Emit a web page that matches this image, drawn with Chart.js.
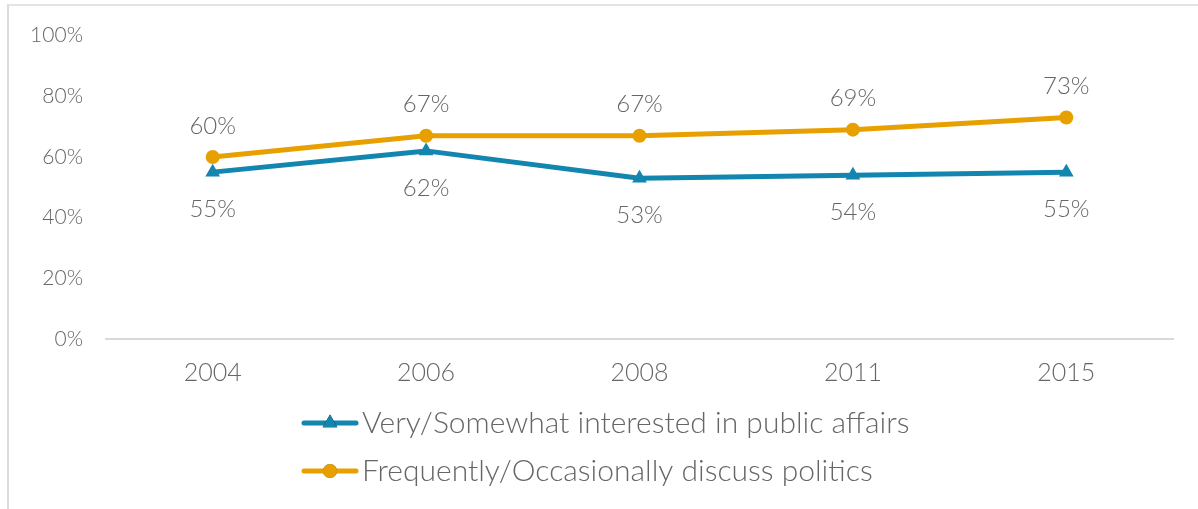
<!DOCTYPE html>
<html>
<head>
<meta charset="utf-8">
<script src="https://cdn.jsdelivr.net/npm/chart.js@4/dist/chart.umd.min.js"></script>
<style>
  html, body { margin: 0; padding: 0; background: #ffffff; }
  #wrap { position: relative; width: 1198px; height: 509px; overflow: hidden; }
  #frame { position: absolute; left: 7px; top: 4px; right: -4px; bottom: -4px;
           border-left: 2px solid #dcdcdc; border-top: 2px solid #e4e4e4; }
  #c { position: absolute; left: 0; top: 0; }
</style>
</head>
<body>
<div id="wrap">
  <div id="frame"></div>
  <canvas id="c" width="1198" height="509"></canvas>
</div>
<script>
// Survey years on the horizontal axis
const years = ['2004', '2006', '2008', '2011', '2015'];

// Share of respondents (%) per year
const interestedPublicAffairs = [55, 62, 53, 54, 55];
const discussPolitics = [60, 67, 67, 69, 73];

const seriesNames = [
  'Very/Somewhat interested in public affairs',
  'Frequently/Occasionally discuss politics'
];

const yTicks = [0, 20, 40, 60, 80, 100];

const BLUE = '#1386AF';
const ORANGE = '#E8A000';
const TEXT = '#666666';
const FONT = 'Lato, "Open Sans", sans-serif';
const WEIGHT = '300';

// Value labels: orange series above its points, blue series below
const valueLabels = {
  id: 'valueLabels',
  afterDatasetsDraw(chart) {
    const ctx = chart.ctx;
    ctx.save();
    ctx.font = WEIGHT + ' 24px ' + FONT;
    ctx.fillStyle = TEXT;
    ctx.textAlign = 'center';
    ctx.textBaseline = 'middle';
    chart.data.datasets.forEach((ds, i) => {
      const meta = chart.getDatasetMeta(i);
      const dy = ds.labelOffset;
      meta.data.forEach((pt, j) => {
        ctx.fillText(ds.data[j] + '%', pt.x, pt.y + dy);
      });
    });
    ctx.restore();
  }
};

// Stacked legend below the axis, one series per row
const stackedLegend = {
  id: 'stackedLegend',
  afterDraw(chart) {
    const ctx = chart.ctx;
    ctx.save();
    ctx.font = WEIGHT + ' 30px ' + FONT;
    const swatch = 56, gap = 4;
    const widths = chart.data.datasets.map(ds => ctx.measureText(ds.label).width);
    const block = swatch + gap + Math.max(...widths);
    const x0 = Math.round(chart.width / 2 + 7 - block / 2);
    const rows = [423, 471];
    chart.data.datasets.forEach((ds, i) => {
      const y = rows[i];
      ctx.strokeStyle = ds.borderColor;
      ctx.lineWidth = 5;
      ctx.lineCap = 'round';
      ctx.beginPath();
      ctx.moveTo(x0 + 2, y);
      ctx.lineTo(x0 + swatch - 2, y);
      ctx.stroke();
      Chart.helpers.drawPoint(ctx, {
        pointStyle: ds.pointStyle,
        radius: ds.pointRadius,
        rotation: 0,
        borderWidth: 0
      }, x0 + swatch / 2, y);
      ctx.fillStyle = ds.borderColor;
      ctx.fill();
      ctx.fillStyle = TEXT;
      ctx.textAlign = 'left';
      ctx.textBaseline = 'middle';
      ctx.fillText(ds.label, x0 + swatch + gap, y);
    });
    ctx.restore();
  }
};

new Chart(document.getElementById('c'), {
  type: 'line',
  data: {
    labels: years,
    datasets: [
      {
        label: seriesNames[0],
        data: interestedPublicAffairs,
        borderColor: BLUE,
        backgroundColor: BLUE,
        borderWidth: 5,
        pointStyle: 'triangle',
        pointRadius: 8.5,
        pointHoverRadius: 8.5,
        pointBorderWidth: 0,
        labelOffset: 37,
        tension: 0
      },
      {
        label: seriesNames[1],
        data: discussPolitics,
        borderColor: ORANGE,
        backgroundColor: ORANGE,
        borderWidth: 5,
        pointStyle: 'circle',
        pointRadius: 7,
        pointHoverRadius: 7,
        pointBorderWidth: 0,
        labelOffset: -31,
        tension: 0
      }
    ]
  },
  options: {
    responsive: false,
    animation: false,
    devicePixelRatio: 1,
    layout: { padding: { left: 0, right: 25, top: 35, bottom: 110 } },
    plugins: {
      legend: { display: false },
      tooltip: { enabled: false }
    },
    scales: {
      x: {
        offset: true,
        grid: { display: false, drawTicks: false },
        border: { display: true, color: '#d9d9d9', width: 2 },
        ticks: { font: { family: FONT, size: 25, weight: WEIGHT }, color: TEXT, padding: 19 },
        afterFit(scale) { scale.height = 60; }
      },
      y: {
        min: 0,
        max: 100,
        afterBuildTicks(scale) { scale.ticks = yTicks.map(v => ({ value: v })); },
        grid: { display: false, drawTicks: false },
        border: { display: false },
        ticks: {
          font: { family: FONT, size: 21, weight: WEIGHT },
          color: TEXT,
          padding: 23,
          callback: v => v + '%'
        },
        afterFit(scale) { scale.width = 106; }
      }
    }
  },
  plugins: [valueLabels, stackedLegend]
});
</script>
</body>
</html>
